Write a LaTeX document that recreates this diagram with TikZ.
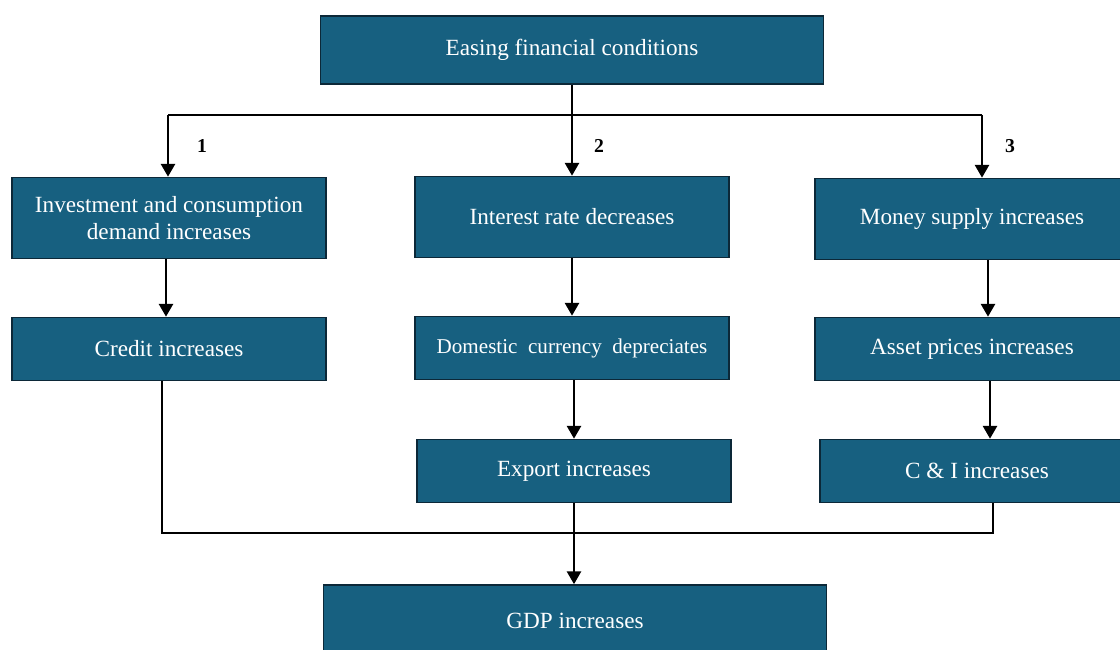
\documentclass[tikz,border=0pt]{standalone}
\usepackage{fontspec}
\setmainfont{Liberation Serif}
\usetikzlibrary{arrows.meta, positioning}
\definecolor{boxblue}{RGB}{23,96,128}
\definecolor{boxedge}{RGB}{12,40,56}

\begin{document}
\begin{tikzpicture}[x=0.025cm, y=-0.025cm,
  box/.style={draw=boxedge, line width=1.2pt, fill=boxblue, text=white, align=center, inner sep=0pt, font=\fontsize{16.5}{19}\selectfont},
  bigbox/.style={box, minimum width=12.575cm, minimum height=1.7cm},
  colbox/.style={box, minimum width=7.85cm, minimum height=2.025cm},
  lowbox/.style={box, minimum width=7.85cm, minimum height=1.575cm},
  arr/.style={line width=1.4pt, -{Triangle[length=9pt,width=10pt]}},
  link/.style={line width=1.4pt},
  num/.style={font=\fontsize{14}{16}\selectfont\bfseries}]
\useasboundingbox (0,0) rectangle (1120,650);
\clip (0,0) rectangle (1120,650);

\node [bigbox] (ease) at (572,50) {Easing financial conditions};

\node [colbox] (invest) at (169,218) {Investment and consumption\\demand increases};
\node [colbox] (rate) at (572,217) {Interest rate decreases};
\node [colbox] (money) at (972,219) {Money supply increases};

\node [lowbox] (credit) at (169,349) {Credit increases};
\node [lowbox, font=\fontsize{15}{18}\selectfont] (currency) at (572,348) {Domestic\ \ currency\ \ depreciates};
\node [lowbox] (asset) at (972,349) {Asset prices increases};

\node [lowbox] (export) at (574,471) {Export increases};
\node [lowbox] (ci) at (977,471) {C \& I increases};

\node [bigbox, minimum height=1.8cm] (gdp) at (575,621) {GDP increases};

\coordinate (busL) at (168,115);
\coordinate (bus) at (572,115);
\coordinate (busR) at (982,115);
\draw [link] (ease.south) -- (ease.south |- bus);
\draw [link] (busL) -- (busR);
\draw [arr] (busL) -- (busL |- invest.north);
\draw [arr] (bus) -- (bus |- rate.north);
\draw [arr] (busR) -- (busR |- money.north);

\node [num] (n1) at (202,146) {1};
\node [num] (n2) at (599,146) {2};
\node [num] (n3) at (1010,146) {3};

\draw [arr] ([xshift=-0.075cm]invest.south) -- ([xshift=-0.075cm]credit.north);
\draw [arr] (rate.south) -- (currency.north);
\draw [arr] ([xshift=0.4cm]money.south) -- ([xshift=0.4cm]asset.north);
\draw [arr] (export.north |- currency.south) -- (export.north);
\draw [arr] ([xshift=0.45cm]asset.south) -- ([xshift=0.45cm]asset.south |- ci.north);

\coordinate (join) at (574,533);
\draw [link] ([xshift=-0.175cm]credit.south) |- (join) -| ([xshift=0.4cm]ci.south);
\draw [arr] (export.south) -- (export.south |- gdp.north);
\end{tikzpicture}
\end{document}
